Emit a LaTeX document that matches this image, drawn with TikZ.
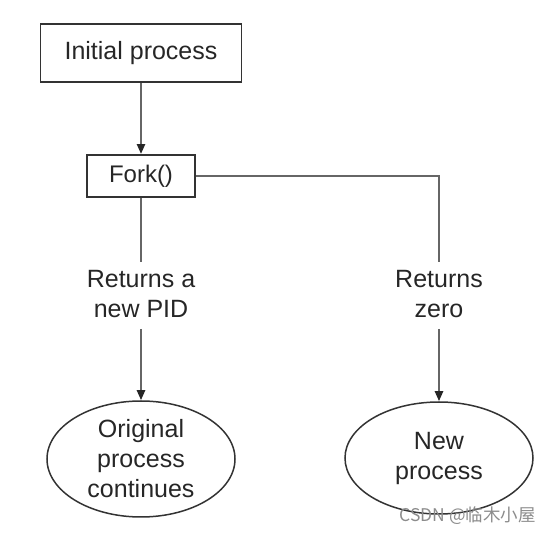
\documentclass[tikz,border=0pt]{standalone}
\usepackage{fontspec}
\setmainfont{Liberation Sans}
\newfontfamily\cjk{Noto Sans CJK SC}
\usetikzlibrary{arrows.meta,shapes.geometric}
\begin{document}
\begin{tikzpicture}[x=1pt,y=-1pt,
  txt/.style={text=black!85, font=\fontsize{25}{30}\selectfont},
  procbox/.style={txt, draw=black!80, line width=1.9pt, inner sep=0pt},
  oval/.style={txt, ellipse, draw=black!80, line width=1.5pt, inner sep=0pt,
    minimum width=188pt, minimum height=116pt, align=center},
  lbl/.style={txt, align=center, inner sep=0pt},
  conn/.style={draw=black!60, line width=2.3pt},
  arr/.style={conn, -{Triangle[width=8pt,length=10pt,color=black!85]}}]
\useasboundingbox (0,0) rectangle (550,534);
\node[procbox, minimum width=201pt, minimum height=58pt] (init) at (141,53) {Initial process};
\node[procbox, minimum width=108pt, minimum height=42pt, font=\fontsize{24}{28}\selectfont] (fork) at (141,176) {Fork()};
\node[lbl] (pid) at (141,294) {Returns a\\new PID};
\node[lbl] (zero) at (439,294) {Returns\\zero};
\node[oval] (orig) at (141,459) {Original\\process\\continues};
\node[oval, minimum height=112pt] (new) at (439,458) {New\\process};
\coordinate (lt) at (141,262);
\coordinate (lb) at (141,329);
\coordinate (rt) at (439,262);
\coordinate (rb) at (439,329);
\draw[arr] (init) -- (fork);
\draw[conn] (fork) -- (lt);
\draw[arr] (lb) -- (orig);
\draw[conn] (fork.east) -| (rt);
\draw[arr] (rb) -- (new);
\node[text=black!45, font=\cjk\fontsize{17.5}{17.5}\selectfont, anchor=east, inner sep=0pt] (wm) at (536,516) {CSDN @临木小屋};
\end{tikzpicture}
\end{document}
